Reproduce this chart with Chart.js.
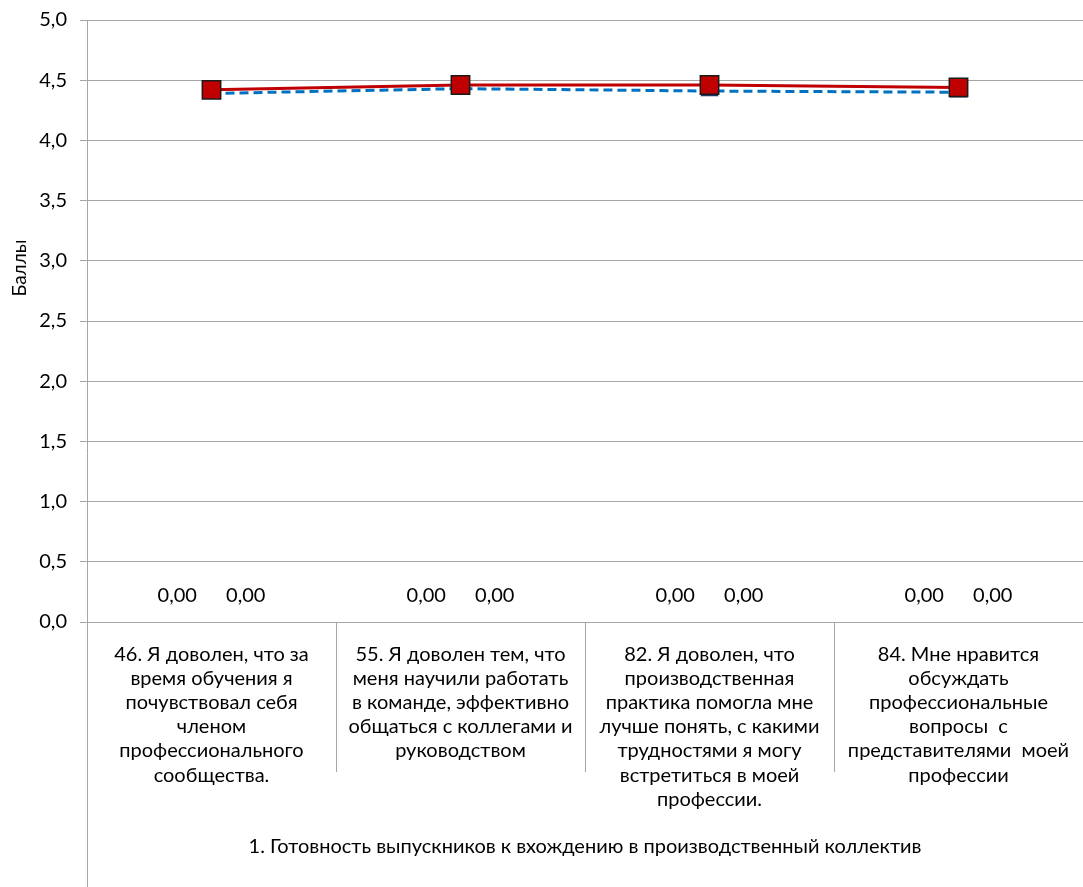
<!DOCTYPE html>
<html>
<head>
<meta charset="utf-8">
<script src="https://cdn.jsdelivr.net/npm/chart.js@4.4.1/dist/chart.umd.min.js"></script>
<style>
  html, body { margin: 0; padding: 0; background: #fff; overflow: hidden; }
  #wrap { width: 1083px; height: 887px; }
  canvas { display: block; }
</style>
</head>
<body>
<div id="wrap"><canvas id="myChart" width="1083" height="887"></canvas></div>
<script>
// категории (подписи разбиты по строкам, как на оси)
const categories = [
    ['46. Я доволен, что за', 'время обучения я', 'почувствовал себя', 'членом', 'профессионального', 'сообщества.'],
    ['55. Я доволен тем, что', 'меня научили работать', 'в команде, эффективно', 'общаться с коллегами и', 'руководством'],
    ['82. Я доволен, что', 'производственная', 'практика помогла мне', 'лучше понять, с какими', 'трудностями я могу', 'встретиться в моей', 'профессии.'],
    ['84. Мне нравится', 'обсуждать', 'профессиональные', 'вопросы  с', 'представителями  моей', 'профессии']
];
const groupTitle = '1. Готовность выпускников к вхождению в производственный коллектив';
const axisTitle = 'Баллы';

// значения рядов
const redSeries = [4.42, 4.46, 4.46, 4.44];
const blueSeries = [4.39, 4.43, 4.41, 4.40];
const zeroSeriesA = [0, 0, 0, 0];
const zeroSeriesB = [0, 0, 0, 0];

const yTicks = { min: 0, max: 5, step: 0.5 };

const FONT = 'Lato, "Open Sans", sans-serif';
const fmt1 = v => v.toFixed(1).replace('.', ',');
const fmt2 = v => v.toFixed(2).replace('.', ',');

// подписи 0,00 над нулевыми рядами, разделители категорий, заголовки
const decor = {
    id: 'decor',
    afterDatasetsDraw(chart) {
        const c = chart.ctx;
        const y = chart.scales.y;
        c.save();
        c.font = '20px ' + FONT;
        c.fillStyle = '#000';
        c.textAlign = 'center';
        c.textBaseline = 'middle';
        chart.data.datasets.forEach((ds, i) => {
            if (ds.type !== 'bar') return;
            chart.getDatasetMeta(i).data.forEach((bar, j) => {
                c.fillText(fmt2(ds.data[j]), bar.x, y.getPixelForValue(ds.data[j]) - 26);
            });
        });
        c.restore();
    },
    afterDraw(chart) {
        const c = chart.ctx;
        const x = chart.scales.x;
        const area = chart.chartArea;
        c.save();
        c.strokeStyle = '#A6A6A6';
        c.lineWidth = 1;
        // разделители подписей категорий
        for (let i = 0; i < categories.length - 1; i++) {
            const bx = Math.round((x.getPixelForValue(i) + x.getPixelForValue(i + 1)) / 2) + 0.5;
            c.beginPath();
            c.moveTo(bx, area.bottom);
            c.lineTo(bx, area.bottom + 150);
            c.stroke();
        }
        // левая ось до низа
        const lx = Math.round(area.left) + 0.5;
        c.beginPath();
        c.moveTo(lx, area.top);
        c.lineTo(lx, chart.height);
        c.stroke();

        c.fillStyle = '#000';
        c.textAlign = 'center';
        c.textBaseline = 'middle';
        c.font = '20px ' + FONT;
        c.fillText(groupTitle, (area.left + area.right) / 2, chart.height - 40);

        c.translate(20, area.top + 248);
        c.rotate(-Math.PI / 2);
        c.font = '19px ' + FONT;
        c.fillText(axisTitle, 0, 0);
        c.restore();
    }
};

const ctx = document.getElementById('myChart').getContext('2d');
const myChart = new Chart(ctx, {
    data: {
        labels: categories,
        datasets: [
            {
                type: 'line',
                label: 'Ряд 1',
                data: redSeries,
                borderColor: '#C00000',
                borderWidth: 3,
                pointStyle: 'rect',
                pointRadius: 13,
                pointBackgroundColor: '#C00000',
                pointBorderColor: '#1a1a1a',
                pointBorderWidth: 1.5,
                order: 1
            },
            {
                type: 'line',
                label: 'Ряд 2',
                data: blueSeries,
                borderColor: '#0070C0',
                borderWidth: 3,
                borderDash: [9, 5],
                pointStyle: 'triangle',
                pointRadius: 9,
                pointBackgroundColor: '#2E75B6',
                pointBorderColor: '#1F3864',
                pointBorderWidth: 1.5,
                order: 2
            },
            {
                type: 'bar',
                label: 'Ряд 3',
                data: zeroSeriesA,
                backgroundColor: 'rgba(0,0,0,0)',
                borderWidth: 0,
                order: 3
            },
            {
                type: 'bar',
                label: 'Ряд 4',
                data: zeroSeriesB,
                backgroundColor: 'rgba(0,0,0,0)',
                borderWidth: 0,
                order: 4
            }
        ]
    },
    options: {
        responsive: false,
        animation: false,
        layout: { autoPadding: false, padding: { top: 20, right: 0, left: 0, bottom: 0 } },
        datasets: { bar: { categoryPercentage: 0.55, barPercentage: 1 } },
        scales: {
            x: {
                offset: true,
                grid: { display: false, drawTicks: false },
                border: { display: false },
                ticks: {
                    color: '#000',
                    font: { family: FONT, size: 20, lineHeight: 1.21 },
                    padding: 20,
                    maxRotation: 0,
                    autoSkip: false
                },
                afterFit(scale) {
                    scale.height = 265;
                    scale.paddingLeft = 0;
                    scale.paddingRight = 0;
                }
            },
            y: {
                min: yTicks.min,
                max: yTicks.max,
                ticks: {
                    stepSize: yTicks.step,
                    color: '#000',
                    font: { family: FONT, size: 20 },
                    padding: 13,
                    callback: v => fmt1(v)
                },
                grid: { color: '#A6A6A6', lineWidth: 1, tickLength: 7 },
                border: { display: false },
                afterFit(scale) {
                    scale.width = 87;
                    scale.paddingTop = 0;
                    scale.paddingBottom = 0;
                }
            }
        },
        plugins: {
            legend: { display: false },
            tooltip: { enabled: false }
        }
    },
    plugins: [decor]
});
</script>
</body>
</html>
